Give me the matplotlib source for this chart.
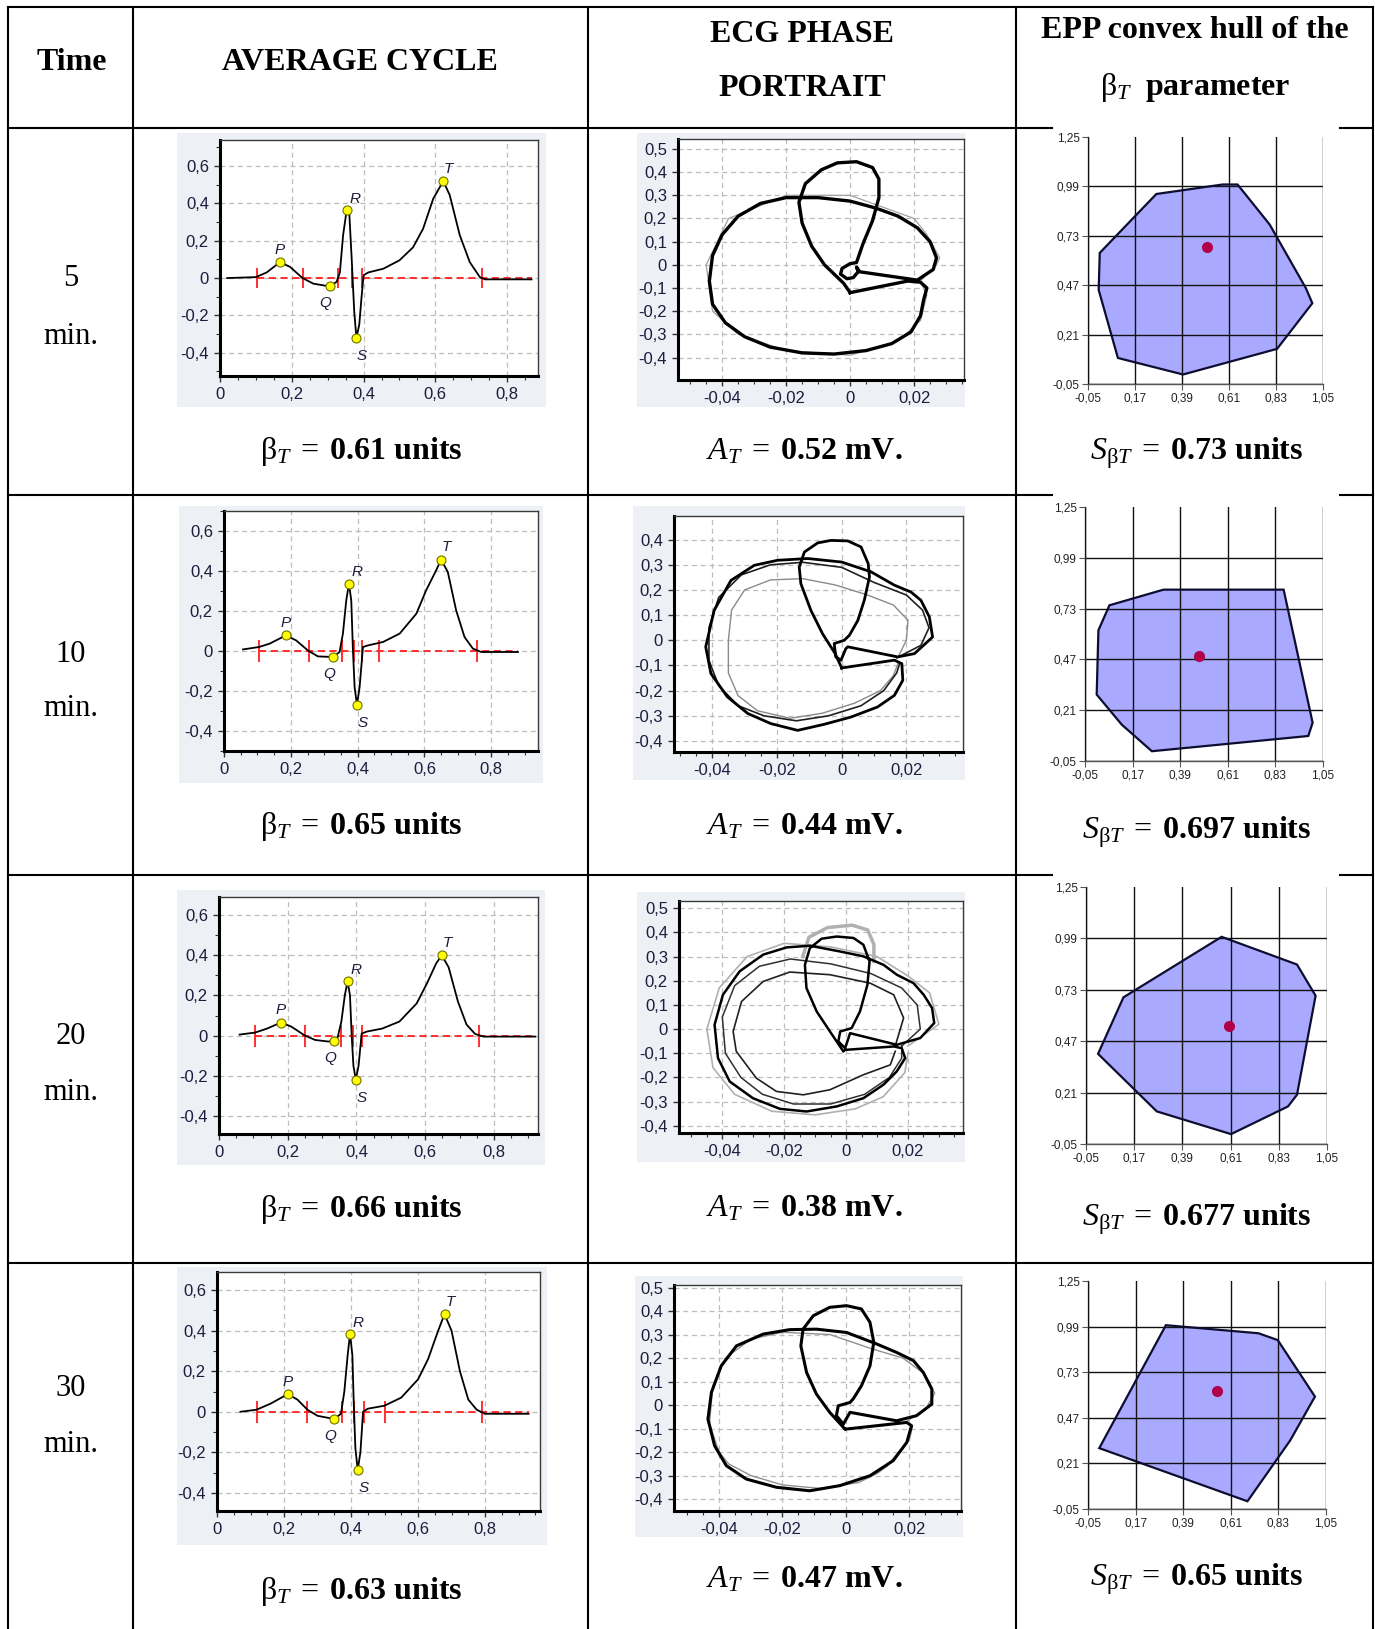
import matplotlib
matplotlib.use('Agg')
import matplotlib.pyplot as plt
from matplotlib.lines import Line2D
from matplotlib.patches import Rectangle
from matplotlib.ticker import MultipleLocator, FuncFormatter, FixedLocator

plt.rcParams['font.family'] = ['Liberation Serif', 'DejaVu Serif']
plt.rcParams['mathtext.fontset'] = 'custom'
plt.rcParams['mathtext.rm'] = 'Liberation Serif'
plt.rcParams['mathtext.it'] = 'Liberation Serif:italic'
plt.rcParams['mathtext.bf'] = 'Liberation Serif:bold'

W, H = 1375, 1629

# ---------------- data ----------------
times = ['5', '10', '20', '30']
beta_vals = ['0.61', '0.65', '0.66', '0.63']
amp_vals = ['0.52', '0.44', '0.38', '0.47']
area_vals = ['0.73', '0.697', '0.677', '0.65']

# average cycle curves (time s, mV)
ecg1_t = [0.02, 0.1, 0.13, 0.167, 0.195, 0.23, 0.26, 0.306, 0.325, 0.334, 0.343, 0.353, 0.36, 0.367,
          0.374, 0.38, 0.388, 0.394, 0.40, 0.413, 0.455, 0.50, 0.538, 0.566, 0.594, 0.622, 0.64,
          0.668, 0.696, 0.724, 0.738, 0.868]
ecg1_v = [0.0, 0.005, 0.03, 0.085, 0.06, 0.0, -0.03, -0.045, -0.02, 0.03, 0.23, 0.365, 0.355, 0.1,
          -0.18, -0.32, -0.25, -0.11, 0.015, 0.03, 0.05, 0.095, 0.165, 0.265, 0.425, 0.52, 0.445,
          0.23, 0.085, 0.005, -0.007, -0.007]
ecg1_mt = [0.167, 0.306, 0.353, 0.378, 0.622]
ecg1_mv = [0.086, -0.045, 0.366, -0.32, 0.518]
ecg1_seg = [0.102, 0.23, 0.328, 0.368, 0.397, 0.729]

ecg2_t = [0.057, 0.105, 0.137, 0.185, 0.216, 0.251, 0.281, 0.326, 0.346, 0.356, 0.366, 0.374, 0.381,
          0.386, 0.391, 0.398, 0.406, 0.416, 0.431, 0.476, 0.526, 0.576, 0.605, 0.635, 0.65, 0.67,
          0.695, 0.72, 0.745, 0.77, 0.88]
ecg2_v = [0.008, 0.02, 0.037, 0.078, 0.053, 0.003, -0.027, -0.03, -0.005, 0.087, 0.253, 0.337, 0.253,
          0.003, -0.18, -0.27, -0.18, 0.02, 0.028, 0.045, 0.087, 0.187, 0.303, 0.403, 0.457, 0.395,
          0.203, 0.07, 0.012, -0.005, -0.005]
ecg2_mt = [0.185, 0.326, 0.374, 0.398, 0.65]
ecg2_mv = [0.078, -0.03, 0.337, -0.27, 0.457]
ecg2_seg = [0.105, 0.253, 0.353, 0.388, 0.414, 0.465, 0.757]

ecg3_t = [0.06, 0.105, 0.14, 0.18, 0.21, 0.25, 0.28, 0.32, 0.345, 0.356, 0.366, 0.374, 0.381, 0.386,
          0.391, 0.398, 0.406, 0.415, 0.43, 0.475, 0.525, 0.575, 0.605, 0.632, 0.648, 0.668, 0.695,
          0.72, 0.745, 0.77, 0.92]
ecg3_v = [0.005, 0.015, 0.035, 0.065, 0.045, 0.0, -0.022, -0.03, -0.01, 0.07, 0.2, 0.27, 0.2, 0.0,
          -0.15, -0.22, -0.15, 0.01, 0.02, 0.035, 0.07, 0.16, 0.26, 0.36, 0.4, 0.34, 0.17, 0.055,
          0.008, -0.005, -0.005]
ecg3_mt = [0.18, 0.335, 0.374, 0.398, 0.648]
ecg3_mv = [0.065, -0.028, 0.27, -0.22, 0.4]
ecg3_seg = [0.105, 0.25, 0.355, 0.39, 0.415, 0.755]

ecg4_t = [0.07, 0.118, 0.16, 0.211, 0.24, 0.27, 0.3, 0.35, 0.37, 0.38, 0.39, 0.397, 0.404, 0.408,
          0.413, 0.42, 0.428, 0.436, 0.45, 0.5, 0.55, 0.6, 0.63, 0.66, 0.679, 0.7, 0.725, 0.75,
          0.775, 0.8, 0.93]
ecg4_v = [0.0, 0.01, 0.04, 0.087, 0.06, 0.01, -0.02, -0.036, -0.01, 0.1, 0.28, 0.385, 0.28, 0.05,
          -0.18, -0.287, -0.2, 0.0, 0.015, 0.03, 0.07, 0.16, 0.26, 0.4, 0.482, 0.4, 0.2, 0.06, 0.01,
          -0.01, -0.01]
ecg4_mt = [0.211, 0.35, 0.397, 0.42, 0.679]
ecg4_mv = [0.087, -0.036, 0.385, -0.287, 0.482]
ecg4_seg = [0.118, 0.27, 0.372, 0.41, 0.44, 0.5, 0.79]

# phase portraits (derivative, amplitude)
ph1_x = [0.0, -0.002, -0.008, -0.012, -0.015, -0.016, -0.014, -0.009, -0.004, 0.002, 0.007, 0.009,
         0.009, 0.007, 0.004, 0.002, 0.0, -0.0025, -0.003, -0.001, 0.001, 0.0025, 0.002, 0.003,
         0.021, 0.026, 0.027, 0.025, 0.021, 0.015, 0.008, 0.0, -0.01, -0.02, -0.028, -0.035, -0.04,
         -0.043, -0.044, -0.043, -0.039, -0.033, -0.025, -0.015, -0.005, 0.005, 0.013, 0.019, 0.022,
         0.023, 0.024, 0.022, 0.018, 0.0]
ph1_y = [-0.12, -0.08, 0.0, 0.08, 0.18, 0.27, 0.35, 0.41, 0.44, 0.445, 0.42, 0.37, 0.29, 0.19, 0.09,
         0.01, 0.005, -0.015, -0.04, -0.06, -0.055, -0.03, -0.01, -0.03, -0.066, -0.02, 0.03, 0.1,
         0.16, 0.21, 0.245, 0.275, 0.29, 0.29, 0.265, 0.21, 0.13, 0.04, -0.07, -0.17, -0.25, -0.31,
         -0.355, -0.38, -0.385, -0.37, -0.34, -0.29, -0.22, -0.15, -0.1, -0.075, -0.07, -0.12]
ph1g_x = [0.022, 0.027, 0.028, 0.024, 0.02, 0.0, -0.02, -0.038, -0.045, -0.043, -0.035, -0.02, 0.0,
          0.015, 0.022, 0.024, 0.022]
ph1g_y = [-0.07, 0.0, 0.03, 0.13, 0.2, 0.3, 0.3, 0.2, 0.0, -0.2, -0.3, -0.37, -0.39, -0.33, -0.24,
          -0.13, -0.075]

ph2_x = [0.0, -0.002, -0.0059, -0.0095, -0.0126, -0.0131, -0.0115, -0.0074, -0.0033, 0.0019, 0.006,
         0.0082, 0.0086, 0.007, 0.005, 0.0024, 0.0008, -0.0023, -0.0018, -0.0002, 0.0013, 0.0019,
         0.0173, 0.0225, 0.0281, 0.0271, 0.0245, 0.0214, 0.0163, 0.0091, 0.0, -0.0105, -0.0198,
         -0.027, -0.0342, -0.0394, -0.042, -0.0404, -0.0353, -0.029, -0.0219, -0.0136, -0.0054,
         0.0029, 0.0111, 0.0163, 0.0189, 0.0186, 0.0163, 0.0]
ph2_y = [-0.11, -0.053, 0.026, 0.119, 0.225, 0.291, 0.351, 0.387, 0.397, 0.395, 0.371, 0.305, 0.252,
         0.159, 0.079, 0.02, 0.0, -0.013, -0.066, -0.079, -0.033, -0.026, -0.066, -0.053, 0.013,
         0.093, 0.159, 0.192, 0.219, 0.272, 0.311, 0.325, 0.318, 0.298, 0.238, 0.119, -0.026,
         -0.132, -0.225, -0.291, -0.331, -0.358, -0.334, -0.305, -0.265, -0.219, -0.159, -0.093,
         -0.079, -0.11]
ph2b_x = [0.017, 0.0245, 0.027, 0.025, 0.02, 0.01, 0.0, -0.012, -0.022, -0.031, -0.038, -0.041,
          -0.041, -0.038, -0.032, -0.024, -0.014, -0.004, 0.006, 0.013, 0.017, 0.018]
ph2b_y = [-0.07, -0.02, 0.05, 0.12, 0.18, 0.23, 0.29, 0.31, 0.3, 0.26, 0.17, 0.05, -0.08, -0.18,
          -0.26, -0.3, -0.32, -0.3, -0.26, -0.2, -0.13, -0.09]
ph2g_x = [0.0175, 0.02, 0.0205, 0.016, 0.008, -0.002, -0.012, -0.022, -0.03, -0.034, -0.035, -0.035,
          -0.032, -0.026, -0.016, -0.006, 0.004, 0.012, 0.016, 0.0175]
ph2g_y = [-0.065, 0.0, 0.08, 0.14, 0.18, 0.22, 0.245, 0.24, 0.2, 0.12, 0.0, -0.13, -0.22, -0.28,
          -0.31, -0.29, -0.25, -0.2, -0.14, -0.09]

ph3_x = [-0.0009, -0.0052, -0.0095, -0.0128, -0.0133, -0.0117, -0.0079, -0.003, 0.0024, 0.0056,
         0.0076, 0.0069, 0.0045, 0.0018, -0.0019, -0.0025, -0.0003, 0.0013, 0.0164, 0.024, 0.0285,
         0.0278, 0.0251, 0.0218, 0.0164, 0.0121, 0.0056, -0.0019, -0.0117, -0.0192, -0.0268,
         -0.0344, -0.0398, -0.0425, -0.0414, -0.0376, -0.0301, -0.0214, -0.0128, -0.003, 0.0056,
         0.0121, 0.0164, 0.0191, 0.018, 0.0154, -0.0003]
ph3_y = [-0.092, -0.01, 0.073, 0.17, 0.266, 0.335, 0.374, 0.383, 0.377, 0.349, 0.28, 0.183, 0.073,
         0.004, -0.01, -0.051, -0.079, -0.017, -0.065, -0.037, 0.025, 0.087, 0.142, 0.19, 0.225,
         0.266, 0.301, 0.321, 0.345, 0.338, 0.308, 0.239, 0.142, 0.018, -0.12, -0.217, -0.286,
         -0.33, -0.341, -0.32, -0.286, -0.23, -0.175, -0.12, -0.079, -0.072, -0.086]
ph3b_x = [0.0159, 0.0186, 0.0154, 0.0078, -0.0052, -0.0182, -0.0268, -0.0338, -0.0365, -0.0355,
          -0.029, -0.0225, -0.0138, -0.0052, 0.0056, 0.0143, 0.0159]
ph3b_y = [-0.07, 0.046, 0.142, 0.19, 0.225, 0.236, 0.197, 0.114, -0.01, -0.092, -0.203, -0.258,
          -0.272, -0.251, -0.189, -0.148, -0.092]
ph3c_x = [0.018, 0.024, 0.023, 0.018, 0.008, -0.005, -0.018, -0.028, -0.036, -0.04, -0.039, -0.034,
          -0.027, -0.017, -0.005, 0.006, 0.014, 0.018, 0.018]
ph3c_y = [-0.07, 0.0, 0.1, 0.17, 0.23, 0.27, 0.29, 0.26, 0.18, 0.05, -0.1, -0.2, -0.27, -0.31,
          -0.31, -0.27, -0.2, -0.12, -0.07]
ph3g_x = [0.02, 0.03, 0.027, 0.02, 0.01, -0.005, -0.02, -0.032, -0.041, -0.045, -0.043, -0.036,
          -0.024, -0.01, 0.003, 0.012, 0.019, 0.02]
ph3g_y = [-0.07, 0.02, 0.15, 0.22, 0.3, 0.34, 0.355, 0.3, 0.17, 0.0, -0.16, -0.27, -0.34, -0.355,
          -0.33, -0.28, -0.18, -0.1]
ph3q_x = [-0.014, -0.012, -0.006, 0.002, 0.007, 0.009, 0.009]
ph3q_y = [0.3, 0.38, 0.42, 0.43, 0.41, 0.35, 0.28]

ph4_x = [-0.0003, -0.0051, -0.0093, -0.0124, -0.0142, -0.0135, -0.0103, -0.0051, 0.0002, 0.0049,
         0.0076, 0.0088, 0.0076, 0.0049, 0.0023, 0.0013, -0.0024, -0.003, -0.0008, 0.0013, 0.016,
         0.0223, 0.0271, 0.0271, 0.0244, 0.0213, 0.016, 0.0097, 0.0002, -0.0093, -0.0177, -0.0261,
         -0.0345, -0.0393, -0.0424, -0.0435, -0.0414, -0.0377, -0.0314, -0.0219, -0.0114, -0.0019,
         0.0076, 0.0149, 0.0192, 0.0207, 0.0192, 0.0002]
ph4_y = [-0.102, -0.031, 0.047, 0.139, 0.252, 0.323, 0.38, 0.416, 0.423, 0.409, 0.352, 0.267, 0.167,
         0.082, 0.026, 0.011, -0.003, -0.045, -0.081, -0.031, -0.067, -0.045, 0.004, 0.068, 0.139,
         0.189, 0.224, 0.26, 0.309, 0.323, 0.321, 0.302, 0.252, 0.167, 0.054, -0.06, -0.173,
         -0.258, -0.315, -0.35, -0.365, -0.343, -0.301, -0.237, -0.159, -0.088, -0.074, -0.102]
ph4g_x = [0.019, 0.025, 0.028, 0.025, 0.018, 0.008, -0.005, -0.02, -0.03, -0.038, -0.042, -0.043,
          -0.04, -0.037, -0.03, -0.02, -0.008, 0.004, 0.01, 0.013, 0.016, 0.02, 0.021]
ph4g_y = [-0.07, -0.02, 0.05, 0.13, 0.2, 0.24, 0.3, 0.31, 0.28, 0.2, 0.08, -0.08, -0.2, -0.25, -0.3,
          -0.34, -0.355, -0.33, -0.29, -0.26, -0.21, -0.15, -0.09]

# convex hulls of beta_T with centroid
hull1_x = [0.005, 0.27, 0.58, 0.65, 0.80, 0.97, 1.0, 0.835, 0.395, 0.09, 0.0]
hull1_y = [0.64, 0.95, 1.0, 1.0, 0.79, 0.454, 0.375, 0.135, 0.0, 0.087, 0.445]
hull1_c = (0.507, 0.669)
hull2_x = [0.063, 0.313, 0.868, 1.002, 0.982, 0.259, 0.12, 0.004, 0.012]
hull2_y = [0.747, 0.827, 0.827, 0.146, 0.078, 0.0, 0.136, 0.29, 0.619]
hull2_c = (0.478, 0.489)
hull3_x = [0.005, 0.121, 0.569, 0.913, 0.998, 0.913, 0.872, 0.612, 0.273]
hull3_y = [0.406, 0.692, 0.998, 0.858, 0.70, 0.199, 0.14, 0.0, 0.115]
hull3_c = (0.604, 0.549)
hull4_x = [0.002, 0.31, 0.738, 0.827, 0.999, 0.884, 0.687]
hull4_y = [0.297, 0.998, 0.952, 0.913, 0.591, 0.34, -0.006]
hull4_c = (0.545, 0.625)

# ---------------- layout (pixels) ----------------
ecg_frames = [(220, 140, 538, 376), (224, 511, 538, 751), (219, 897, 538, 1134), (217, 1272, 540, 1511)]
ecg_bgs = [(177, 133, 546, 407), (179, 506, 543, 783), (177, 890, 545, 1165), (177, 1267, 547, 1545)]
ecg_xlims = [(0, 0.886), (0, 0.94), (0, 0.928), (0, 0.964)]
ecg_ylims = [(-0.525, 0.74), (-0.5, 0.7), (-0.49, 0.69), (-0.49, 0.69)]

ph_frames = [(678, 139, 964, 380), (674, 516, 963, 752), (679, 901, 963, 1133), (674, 1285, 961, 1511)]
ph_bgs = [(637, 133, 965, 407), (633, 506, 965, 780), (637, 892, 965, 1162), (635, 1276, 963, 1537)]
ph_xlims = [(-0.0538, 0.0356), (-0.0518, 0.0375), (-0.054, 0.0378), (-0.0542, 0.0363)]
ph_ylims = [(-0.497, 0.543), (-0.444, 0.494), (-0.43, 0.53), (-0.451, 0.511)]
ph_ytop = [0.5, 0.4, 0.5, 0.5]

hull_frames = [(1088, 137, 1323, 384), (1085, 507, 1323, 761), (1086, 887, 1327, 1144), (1088, 1281, 1326, 1509)]

time_y = [(279, 336), (654, 709), (1037, 1093), (1388, 1444)]
cap_y = [(451, 452, 453), (826, 827, 832), (1210, 1209, 1219), (1591, 1580, 1579)]

navy = '#1c1c3c'


def box(l, t, r, b):
    return [l / W, 1 - b / H, (r - l) / W, (b - t) / H]


def comma(v, pos=None):
    s = '%g' % round(v, 3)
    return s.replace('.', ',')


def comma2(v, pos=None):
    return ('%.2f' % v).replace('.', ',')


fig = plt.figure(figsize=(W / 100, H / 100), dpi=100)
fig.patch.set_facecolor('white')


def bg_rect(bg):
    r = Rectangle((bg[0] / W, 1 - bg[3] / H), (bg[2] - bg[0]) / W, (bg[3] - bg[1]) / H,
                  transform=fig.transFigure, facecolor='#edf0f5', edgecolor='none', zorder=-1)
    fig.add_artist(r)


def style_box(ax):
    ax.set_facecolor('white')
    for side in ['left', 'bottom']:
        ax.spines[side].set_linewidth(2.2)
        ax.spines[side].set_color('black')
    for side in ['top', 'right']:
        ax.spines[side].set_linewidth(1.0)
        ax.spines[side].set_color('#3a3a3a')
    ax.grid(True, which='major', ls=(0, (4, 3)), color='#bdbdbd', lw=0.9)
    ax.set_axisbelow(True)
    ax.tick_params(which='both', direction='out', colors='#333333', labelcolor=navy,
                   labelsize=12, labelfontfamily='Liberation Sans', top=False, right=False)
    ax.tick_params(which='major', length=4, width=1, pad=4)
    ax.tick_params(which='minor', length=3, width=0.8)
    ax.xaxis.set_major_formatter(FuncFormatter(comma))
    ax.yaxis.set_major_formatter(FuncFormatter(comma))


def ecg_panel(i, t, v, mt, mv, seg):
    bg_rect(ecg_bgs[i])
    ax = fig.add_axes(box(*ecg_frames[i]))
    style_box(ax)
    ax.set_xlim(*ecg_xlims[i])
    ax.set_ylim(*ecg_ylims[i])
    ax.xaxis.set_major_locator(FixedLocator([0, 0.2, 0.4, 0.6, 0.8]))
    ax.xaxis.set_minor_locator(MultipleLocator(0.05))
    ax.yaxis.set_major_locator(FixedLocator([-0.4, -0.2, 0, 0.2, 0.4, 0.6]))
    ax.yaxis.set_minor_locator(MultipleLocator(0.1))
    ax.plot([seg[0], t[-1]], [0, 0], color='#ff2020', ls=(0, (4, 2.5)), lw=1.3, zorder=2)
    ax.vlines(seg, -0.055, 0.055, color='#ff2020', lw=1.3, zorder=2)
    ax.plot(t, v, color='black', lw=1.3, zorder=3)
    ax.plot(mt, mv, 'o', mfc='#ffff00', mec='#707000', mew=0.8, ms=6.5, zorder=4)
    offs = [(0, 9), (-3, -12), (6, 8), (4, -13), (4, 9)]
    for name, x, y, o in zip('PQRST', mt, mv, offs):
        ax.annotate(name, (x, y), xytext=o, textcoords='offset points', ha='center', va='center',
                    fontsize=11, style='italic', color=navy, family='Liberation Sans')


def phase_panel(i, traces):
    bg_rect(ph_bgs[i])
    ax = fig.add_axes(box(*ph_frames[i]))
    style_box(ax)
    ax.set_xlim(*ph_xlims[i])
    ax.set_ylim(*ph_ylims[i])
    ax.xaxis.set_major_locator(FixedLocator([-0.04, -0.02, 0, 0.02]))
    ax.xaxis.set_minor_locator(MultipleLocator(0.005))
    yt = [round(-0.4 + 0.1 * k, 1) for k in range(int(round((ph_ytop[i] + 0.4) / 0.1)) + 1)]
    ax.yaxis.set_major_locator(FixedLocator(yt))
    ax.tick_params(axis='y', which='minor', length=0)
    for x, y, c, lw in traces:
        ax.plot(x, y, color=c, lw=lw, solid_joinstyle='round', zorder=3)


def hull_panel(i, hx, hy, c):
    ax = fig.add_axes(box(*hull_frames[i]))
    ax.set_xlim(-0.05, 1.05)
    ax.set_ylim(-0.05, 1.25)
    ticks_x = [-0.05, 0.17, 0.39, 0.61, 0.83, 1.05]
    ticks_y = [-0.05, 0.21, 0.47, 0.73, 0.99, 1.25]
    ax.set_xticks(ticks_x)
    ax.set_yticks(ticks_y)
    ax.xaxis.set_major_formatter(FuncFormatter(comma2))
    ax.yaxis.set_major_formatter(FuncFormatter(comma2))
    ax.grid(True, color='#111111', lw=1.0)
    ax.set_axisbelow(False)
    ax.get_ygridlines()[-1].set_visible(False)
    ax.spines['top'].set_visible(False)
    ax.spines['right'].set_visible(False)
    for side in ['left', 'bottom']:
        ax.spines[side].set_color('#555555')
        ax.spines[side].set_linewidth(1.0)
    ax.tick_params(direction='out', length=4, width=0.8, colors='#555555', labelcolor='#222222',
                   labelsize=8.5, labelfontfamily='Liberation Sans', pad=2)
    ax.fill(hx, hy, facecolor='#a9a9ff', edgecolor='none', zorder=1)
    ax.fill(hx, hy, facecolor='none', edgecolor='#0d0d30', lw=1.6, zorder=3)
    ax.plot([c[0]], [c[1]], 'o', color='#b0004c', ms=7, zorder=4)


ecg_panel(0, ecg1_t, ecg1_v, ecg1_mt, ecg1_mv, ecg1_seg)
ecg_panel(1, ecg2_t, ecg2_v, ecg2_mt, ecg2_mv, ecg2_seg)
ecg_panel(2, ecg3_t, ecg3_v, ecg3_mt, ecg3_mv, ecg3_seg)
ecg_panel(3, ecg4_t, ecg4_v, ecg4_mt, ecg4_mv, ecg4_seg)

phase_panel(0, [(ph1g_x, ph1g_y, '#a0a0a0', 0.9), (ph1_x, ph1_y, 'black', 2.4)])
phase_panel(1, [(ph2g_x, ph2g_y, '#8a8a8a', 1.0), (ph2b_x, ph2b_y, '#202020', 1.2),
                (ph2_x, ph2_y, 'black', 2.0)])
phase_panel(2, [(ph3g_x, ph3g_y, '#b0b0b0', 1.2), (ph3q_x, ph3q_y, '#b0b0b0', 2.5),
                (ph3c_x, ph3c_y, '#303030', 1.1), (ph3b_x, ph3b_y, '#202020', 1.2),
                (ph3_x, ph3_y, 'black', 1.8)])
phase_panel(3, [(ph4g_x, ph4g_y, '#909090', 1.0), (ph4_x, ph4_y, 'black', 2.2)])

hull_panel(0, hull1_x, hull1_y, hull1_c)
hull_panel(1, hull2_x, hull2_y, hull2_c)
hull_panel(2, hull3_x, hull3_y, hull3_c)
hull_panel(3, hull4_x, hull4_y, hull4_c)


# ---------------- table grid ----------------
def hline(y, x0, x1):
    fig.add_artist(Line2D([x0 / W, x1 / W], [1 - y / H, 1 - y / H], transform=fig.transFigure,
                          color='black', lw=1.5, zorder=5))


def vline(x, y0, y1):
    fig.add_artist(Line2D([x / W, x / W], [1 - y0 / H, 1 - y1 / H], transform=fig.transFigure,
                          color='black', lw=1.5, zorder=5))


hline(7, 8, 1373)
for y in [128, 495, 875]:
    hline(y, 8, 1052)
    hline(y, 1340, 1373)
hline(1263, 8, 1373)
for x in [8, 133, 588, 1016, 1373]:
    vline(x, 7, H)


# ---------------- text ----------------
def ftext(x, y, s, **kw):
    fig.text(x / W, 1 - y / H, s, ha='center', va='center', **kw)


ftext(72, 63, 'Time', fontsize=23, fontweight='bold')
ftext(360, 63, 'AVERAGE CYCLE', fontsize=23, fontweight='bold')
ftext(802, 35, 'ECG PHASE', fontsize=23, fontweight='bold')
ftext(802, 89, 'PORTRAIT', fontsize=23, fontweight='bold')
ftext(1195, 31, 'EPP convex hull of the', fontsize=23, fontweight='bold')
ftext(1195, 88, r'$\mathrm{\beta}_T\ \ \mathbf{parameter}$', fontsize=23)

for i in range(4):
    ftext(71, time_y[i][0], times[i], fontsize=22)
    ftext(71, time_y[i][1], 'min.', fontsize=22)
    ftext(361, cap_y[i][0], r'$\mathrm{\beta}_T\;=\;\mathbf{%s\ units}$' % beta_vals[i], fontsize=23)
    ftext(804, cap_y[i][1], r'$A_T\;=\;\mathbf{%s\ mV.}$' % amp_vals[i], fontsize=23)
    ftext(1197, cap_y[i][2], r'$S_{\mathrm{\beta}T}\;=\;\mathbf{%s\ units}$' % area_vals[i], fontsize=23)

fig.savefig('out.png', dpi=100)
